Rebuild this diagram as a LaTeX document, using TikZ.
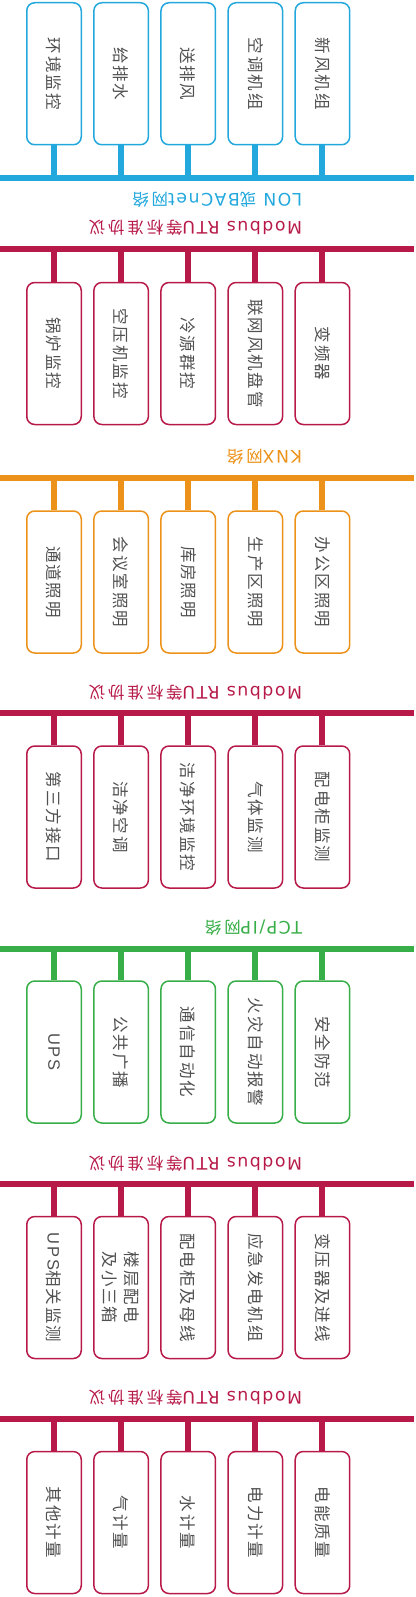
\documentclass[tikz,border=0pt]{standalone}
\usepackage{fontspec}
\setmainfont{Noto Sans CJK SC}
\newfontfamily\cjkf[LetterSpace=12]{Noto Sans CJK SC}
\newfontfamily\latf[LetterSpace=12]{Liberation Sans}
\newfontfamily\cjklab[LetterSpace=17]{Noto Sans CJK SC}
\newfontfamily\latlab[LetterSpace=9]{DejaVu Sans}
\newcommand\latxt[1]{{\latf #1}}
\newcommand\labtxt[1]{{\fontsize{17.3pt}{20pt}\latlab #1}}
\definecolor{cblue}{HTML}{22A8DD}
\definecolor{cred}{HTML}{B71A48}
\definecolor{corange}{HTML}{EC921A}
\definecolor{cgreen}{HTML}{38AE48}
\definecolor{cgray}{HTML}{505050}
\begin{document}
\begin{tikzpicture}[x=1pt,y=-1pt,
  dev/.style={draw=#1, line width=1.5pt, rounded corners=8pt, rotate=-90,
    minimum width=142pt, minimum height=54.5pt, inner sep=0pt, text=cgray,
    font=\fontsize{16.5pt}{22pt}\cjkf, align=center},
  bus/.style={draw=#1, line width=6pt},
  lab/.style={rotate=180, anchor=west, inner sep=0pt, outer sep=0pt, text=#1,
    font=\fontsize{16.5pt}{20pt}\cjklab}]
\useasboundingbox (0,0) rectangle (415,1597);

% ---------- buses ----------
\foreach \n/\y/\c in {1/178/cblue, 2/249.5/cred, 3/478/corange, 4/713/cred,
                      5/948.5/cgreen, 6/1183.5/cred, 7/1418.5/cred}{
  \coordinate (b\n l) at (0,\y);
  \coordinate (b\n r) at (414,\y);
  \draw[bus=\c] (b\n l) -- (b\n r);
}

% ---------- section 1 (boxes above blue bus) ----------
\foreach \t [count=\i] in {环境监控,给排水,送排风,空调机组,新风机组}{
  \pgfmathsetmacro\cx{54+67.12*(\i-1)}
  \node[dev=cblue] (s1-\i) at (\cx,73.75) {\t};
  \draw[bus=cblue] (s1-\i.east) -- (s1-\i.east |- b1l);
}

% ---------- section 2 ----------
\foreach \t [count=\i] in {锅炉监控,空压机监控,冷源群控,联网风机盘管,变频器}{
  \pgfmathsetmacro\cx{54+67.12*(\i-1)}
  \node[dev=cred] (s2-\i) at (\cx,353.5) {\t};
  \draw[bus=cred] (s2-\i.west) -- (s2-\i.west |- b2l);
}

% ---------- section 3 ----------
\foreach \t [count=\i] in {通道照明,会议室照明,库房照明,生产区照明,办公区照明}{
  \pgfmathsetmacro\cx{54+67.12*(\i-1)}
  \node[dev=corange] (s3-\i) at (\cx,582) {\t};
  \draw[bus=corange] (s3-\i.west) -- (s3-\i.west |- b3l);
}

% ---------- section 4 ----------
\foreach \t [count=\i] in {第三方接口,洁净空调,洁净环境监控,气体监测,配电柜监测}{
  \pgfmathsetmacro\cx{54+67.12*(\i-1)}
  \node[dev=cred] (s4-\i) at (\cx,817) {\t};
  \draw[bus=cred] (s4-\i.west) -- (s4-\i.west |- b4l);
}

% ---------- section 5 ----------
\foreach \t [count=\i] in {\latxt{UPS},公共广播,通信自动化,火灾自动报警,安全防范}{
  \pgfmathsetmacro\cx{54+67.12*(\i-1)}
  \node[dev=cgreen] (s5-\i) at (\cx,1052) {\t};
  \draw[bus=cgreen] (s5-\i.west) -- (s5-\i.west |- b5l);
}

% ---------- section 6 ----------
\foreach \t [count=\i] in {\latxt{UPS}相关监测,{楼层配电\\及小三箱},配电柜及母线,应急发电机组,变压器及进线}{
  \pgfmathsetmacro\cx{54+67.12*(\i-1)}
  \node[dev=cred] (s6-\i) at (\cx,1287.5) {\t};
  \draw[bus=cred] (s6-\i.west) -- (s6-\i.west |- b6l);
}

% ---------- section 7 ----------
\foreach \t [count=\i] in {其他计量,气计量,水计量,电力计量,电能质量}{
  \pgfmathsetmacro\cx{54+67.12*(\i-1)}
  \node[dev=cred] (s7-\i) at (\cx,1522.5) {\t};
  \draw[bus=cred] (s7-\i.west) -- (s7-\i.west |- b7l);
}

% ---------- network labels ----------
\node[lab=cblue]   (l1) at (302,200)  {\labtxt{LON }或\labtxt{BACnet}网络};
\node[lab=cred]    (l2) at (302,228)  {\labtxt{Modbus RTU}等标准协议};
\node[lab=corange] (l3) at (302,457)  {\labtxt{KNX}网络};
\node[lab=cred]    (l4) at (302,693)  {\labtxt{Modbus RTU}等标准协议};
\node[lab=cgreen]  (l5) at (302,928)  {\labtxt{TCP/IP}网络};
\node[lab=cred]    (l6) at (302,1164) {\labtxt{Modbus RTU}等标准协议};
\node[lab=cred]    (l7) at (302,1398) {\labtxt{Modbus RTU}等标准协议};
\end{tikzpicture}
\end{document}
